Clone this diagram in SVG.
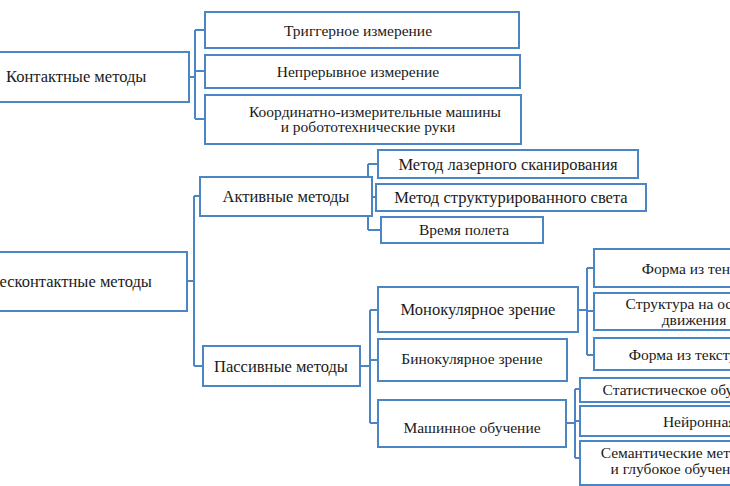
<svg xmlns="http://www.w3.org/2000/svg" width="730" height="486" viewBox="0 0 730 486">
<style>
.b{fill:#fff;stroke:#4a86c5;stroke-width:2}
.c{fill:none;stroke:#4a86c5;stroke-width:2}
text{font-family:"Liberation Serif","Times New Roman",serif;font-size:16.5px;fill:#1a1a1a;text-anchor:middle}
.s{font-size:15.5px}
</style>
<rect width="730" height="486" fill="#fff"/>
<g id="connectors">
<path class="c" d="M189 77H195M195 30V119M195 30H205M195 71H205M195 119H205"/>
<path class="c" d="M187 281H194M194 196V366M194 196H200M194 366H203"/>
<path class="c" d="M372 196H368M368 164V230M368 164H378M368 197H376M368 230H381"/>
<path class="c" d="M360 366H370M370 310V423M370 310H378M370 360H378M370 423H378"/>
<path class="c" d="M578 310H587M587 268V355M587 268H594M587 311H594M587 355H594"/>
<path class="c" d="M566 423H575M575 389V458M575 389H580M575 421H580M575 458H580"/>
</g>
<g id="contact"><rect class="b" x="-5" y="52" width="194" height="50"/><text x="6" y="82" style="text-anchor:start">Контактные методы</text></g>
<g id="trigger"><rect class="b" x="205" y="12" width="314" height="36"/><text class="s" x="358" y="36">Триггерное измерение</text></g>
<g id="continuous"><rect class="b" x="205" y="55" width="315" height="33"/><text class="s" x="358" y="77">Непрерывное измерение</text></g>
<g id="cmm"><rect class="b" x="205" y="95" width="316" height="49"/><text class="s" x="375" y="117">Координатно-измерительные машины</text><text class="s" x="368" y="132">и робототехнические руки</text></g>
<g id="noncontact"><rect class="b" x="-5" y="252" width="192" height="59"/><text x="-10" y="287" style="text-anchor:start">Бесконтактные методы</text></g>
<g id="active"><rect class="b" x="200" y="177" width="172" height="39"/><text x="286" y="202">Активные методы</text></g>
<g id="laser"><rect class="b" x="378" y="150" width="260" height="28"/><text x="508" y="170">Метод лазерного сканирования</text></g>
<g id="structured"><rect class="b" x="376" y="184" width="270" height="27"/><text x="511" y="203">Метод структурированного света</text></g>
<g id="tof"><rect class="b" x="381" y="217" width="162" height="26"/><text class="s" x="464" y="235">Время полета</text></g>
<g id="passive"><rect class="b" x="203" y="346" width="157" height="40"/><text x="281" y="372">Пассивные методы</text></g>
<g id="mono"><rect class="b" x="378" y="287" width="200" height="45"/><text x="478" y="315">Монокулярное зрение</text></g>
<g id="bino"><rect class="b" x="378" y="339" width="189" height="42"/><text class="s" x="472" y="364">Бинокулярное зрение</text></g>
<g id="ml"><rect class="b" x="378" y="400" width="188" height="47"/><text class="s" x="472" y="433">Машинное обучение</text></g>
<g id="shadow"><rect class="b" x="594" y="249" width="160" height="38"/><text class="s" x="690" y="274">Форма из тени</text></g>
<g id="sfm"><rect class="b" x="594" y="293" width="160" height="37"/><text class="s" x="694" y="309">Структура на основе</text><text class="s" x="694" y="325">движения</text></g>
<g id="texture"><rect class="b" x="594" y="338" width="160" height="32"/><text class="s" x="692" y="360">Форма из текстуры</text></g>
<g id="stat"><rect class="b" x="580" y="378" width="170" height="24"/><text class="s" x="687" y="395">Статистическое обучение</text></g>
<g id="nn"><rect class="b" x="580" y="406" width="170" height="30"/><text class="s" x="715" y="427">Нейронная сеть</text></g>
<g id="sem"><rect class="b" x="580" y="441" width="170" height="44"/><text class="s" x="678" y="458">Семантические методы</text><text class="s" x="678" y="474">и глубокое обучение</text></g>
</svg>
